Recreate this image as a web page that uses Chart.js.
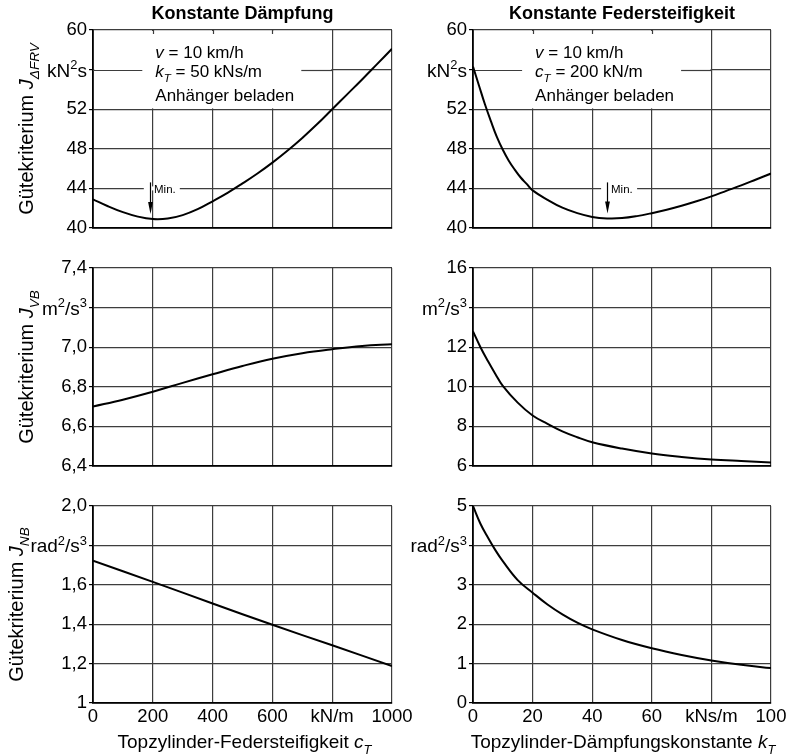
<!DOCTYPE html>
<html><head><meta charset="utf-8">
<script src="https://cdn.jsdelivr.net/npm/chart.js@4/dist/chart.umd.min.js"></script>
<style>
html,body{margin:0;padding:0;background:#fff;}
#wrap{position:relative;width:793px;height:755px;overflow:hidden;background:#fff;}
#wrap canvas{position:absolute;left:0;top:0;}
</style></head><body><div id="wrap">
<canvas id="p0" width="793" height="755"></canvas>
<canvas id="p1" width="793" height="755"></canvas>
<canvas id="p2" width="793" height="755"></canvas>
<canvas id="p3" width="793" height="755"></canvas>
<canvas id="p4" width="793" height="755"></canvas>
<canvas id="p5" width="793" height="755"></canvas>
</div>
<script>
// ---------- DATA ----------
const cFrv = [0,50,100,150,200,250,300,350,400,450,500,550,600,650,700,750,800,850,900,950,1000];
const jFrvC = [42.9,42.2,41.6,41.15,40.9,40.95,41.3,41.9,42.7,43.55,44.5,45.5,46.6,47.8,49.1,50.5,52.0,53.5,55.0,56.55,58.1];
const kFrv = [0,2,4,6,8,10,12,14,16,18,20,25,30,35,40,45,50,55,60,65,70,75,80,85,90,95,100];
const jFrvK = [56.3,54.4,52.5,50.8,49.2,47.9,46.8,45.9,45.1,44.45,43.8,42.85,42.05,41.5,41.12,40.97,41.0,41.2,41.5,41.85,42.25,42.7,43.2,43.75,44.3,44.9,45.5];

const cVb = [0,100,200,300,400,500,600,700,800,900,1000];
const jVbC = [6.70,6.735,6.775,6.82,6.863,6.905,6.942,6.97,6.99,7.006,7.015];
const kVb = [0,2.5,5,7.5,10,15,20,25,30,35,40,50,60,70,80,90,100];
const jVbK = [12.8,12.0,11.3,10.65,10.05,9.2,8.55,8.13,7.75,7.45,7.2,6.88,6.63,6.46,6.33,6.25,6.18];

const cNb = [0,200,400,600,800,1000];
const jNbC = [1.722,1.615,1.505,1.397,1.293,1.188];
const kNb = [0,2.5,5,7.5,10,15,20,25,30,35,40,50,60,70,80,90,100];
const jNbK = [5.0,4.55,4.2,3.88,3.6,3.12,2.8,2.5,2.25,2.04,1.87,1.6,1.39,1.22,1.08,0.97,0.886];

const xTicksC = [0,200,400,600,800,1000];
const xLabelsC = ['0','200','400','600','kN/m','1000'];
const xTicksK = [0,20,40,60,80,100];
const xLabelsK = ['0','20','40','60','kNs/m','100'];

const yTicksFrv = [40,44,48,52,56,60];
const yLabelsFrv = ['40','44','48','52','kN²s','60'];
const yTicksVbC = [6.4,6.6,6.8,7.0,7.2,7.4];
const yLabelsVbC = ['6,4','6,6','6,8','7,0','m²/s³','7,4'];
const yTicksVbK = [6,8,10,12,14,16];
const yLabelsVbK = ['6','8','10','12','m²/s³','16'];
const yTicksNbC = [1,1.2,1.4,1.6,1.8,2.0];
const yLabelsNbC = ['1','1,2','1,4','1,6','rad²/s³','2,0'];
const yTicksNbK = [0,1,2,3,4,5];
const yLabelsNbK = ['0','1','2','3','rad²/s³','5'];

// unit labels drawn with real superscripts
const unitParts = {
  'kN²s': [['kN','n'],['2','p'],['s','n']],
  'm²/s³': [['m','n'],['2','p'],['/s','n'],['3','p']],
  'rad²/s³': [['rad','n'],['2','p'],['/s','n'],['3','p']]
};

const minMarkC = [190, 40.9];
const minMarkK = [45, 40.97];

// ---------- LAYOUT / STYLE ----------
const FONT = "'Liberation Sans', Arial, Helvetica, sans-serif";
const GRID = '#3d3d3d';
const COLS = [{L:93, R:392}, {L:473, R:771}];
const ROWS = [{T:30, B:228}, {T:268, B:466}, {T:506, B:703}];
const TICK_SIZE = 18.5;

function fontStr(st, size){
  const it = st.includes('i') ? 'italic ' : '';
  const b = st.includes('b') ? 'bold ' : '';
  const s = (st.includes('s') || st.includes('p')) ? size*0.68 : size;
  return it + b + s + 'px ' + FONT;
}
function drawRich(ctx, parts, x, y, size, align){
  ctx.save();
  ctx.fillStyle = '#000'; ctx.textBaseline = 'alphabetic'; ctx.textAlign = 'left';
  let w = 0; const ws = [];
  for (const [t, st] of parts){ ctx.font = fontStr(st, size); const m = ctx.measureText(t).width; ws.push(m); w += m; }
  let cx = align === 'center' ? x - w/2 : (align === 'right' ? x - w : x);
  parts.forEach(([t, st], i) => {
    ctx.font = fontStr(st, size);
    let dy = 0;
    if (st.includes('s')) dy = size*0.3;
    if (st.includes('p')) dy = -size*0.4;
    ctx.fillText(t, cx, y + dy);
    cx += ws[i];
  });
  ctx.restore();
}
function line(ctx, x1, y1, x2, y2){ ctx.beginPath(); ctx.moveTo(x1, y1); ctx.lineTo(x2, y2); ctx.stroke(); }

function annotationBox(chart, gridVals, boxEndX, textX0, lines){
  const ctx = chart.ctx, xs = chart.scales.x, ys = chart.scales.y, ca = chart.chartArea;
  const xEnd = xs.getPixelForValue(boxEndX);
  const yEnd = ys.getPixelForValue(gridVals.bottom);
  ctx.save();
  ctx.fillStyle = '#fff';
  ctx.fillRect(ca.left + 1.2, ca.top + 1, xEnd - ca.left - 2, yEnd - ca.top - 1.8);
  ctx.strokeStyle = GRID; ctx.lineWidth = 1.2;
  const y56 = Math.round(ys.getPixelForValue(gridVals.mid)) + 0.5;
  const tx = xs.getPixelForValue(textX0) + 2.5;
  line(ctx, ca.left, y56, tx - 13, y56);
  line(ctx, tx + 146, y56, xEnd, y56);
  for (const v of gridVals.topTicks){
    const px = Math.round(xs.getPixelForValue(v)) + 0.5;
    line(ctx, px, ca.top, px, ca.top + 4);
  }
  ctx.restore();
  const offs = [-13, 6, 30.5];
  lines.forEach((parts, i) => drawRich(ctx, parts, tx, y56 + offs[i], 17, 'left'));
}
function minGap(chart, mark){
  const ctx = chart.ctx, xs = chart.scales.x, ys = chart.scales.y;
  const ax = xs.getPixelForValue(mark[0]);
  const y44 = ys.getPixelForValue(44);
  ctx.save(); ctx.fillStyle = '#fff';
  ctx.fillRect(ax - 6, y44 - 2, 36, 4);
  ctx.restore();
}
function minArrow(chart, mark){
  const ctx = chart.ctx, xs = chart.scales.x, ys = chart.scales.y;
  const ax = Math.round(xs.getPixelForValue(mark[0])) + 0.5;
  const y44 = ys.getPixelForValue(44);
  const tip = ys.getPixelForValue(mark[1]) - 5;
  ctx.save();
  ctx.strokeStyle = '#000'; ctx.lineWidth = 1.2; ctx.fillStyle = '#000';
  line(ctx, ax, y44 - 6, ax, tip - 10);
  ctx.beginPath(); ctx.moveTo(ax - 2.4, tip - 12); ctx.lineTo(ax + 2.4, tip - 12); ctx.lineTo(ax, tip); ctx.closePath(); ctx.fill();
  ctx.font = '11.5px ' + FONT; ctx.textBaseline = 'middle'; ctx.textAlign = 'left';
  ctx.fillText('Min.', ax + 3.5, y44 + 1);
  ctx.restore();
}
function yTitle(chart, parts, bx){
  const ctx = chart.ctx, ca = chart.chartArea;
  ctx.save();
  ctx.translate(bx, (ca.top + ca.bottom)/2);
  ctx.rotate(-Math.PI/2);
  drawRich(ctx, parts, 0, 0, 20, 'center');
  ctx.restore();
}
function unitLabels(chart, ticks, labels){
  const ys = chart.scales.y, ca = chart.chartArea;
  labels.forEach((lab, i) => {
    if (unitParts[lab]) {
      const py = ys.getPixelForValue(ticks[i]);
      drawRich(chart.ctx, unitParts[lab], ca.left - 6, py + 7, 19, 'right');
    }
  });
}

function panel(id, col, row, spec){
  const box = {L: COLS[col].L, R: COLS[col].R, T: ROWS[row].T, B: ROWS[row].B};
  const pts = spec.xs.map((x, i) => ({x: x, y: spec.ys[i]}));
  const showX = row === 2;
  const overlay = {
    id: 'ov' + id,
    beforeDatasetsDraw(chart){ if (spec.before) spec.before(chart); },
    afterDatasetsDraw(chart){ if (spec.after) spec.after(chart); },
    afterDraw(chart){
      unitLabels(chart, spec.yTicks, spec.yLabels);
      if (spec.text) spec.text(chart);
    }
  };
  return new Chart(document.getElementById(id), {
    type: 'line',
    data: { datasets: [{ data: pts, borderColor: '#000', borderWidth: 2, pointRadius: 0,
      tension: 0.4, fill: false }] },
    options: {
      responsive: false, animation: false, devicePixelRatio: 1,
      layout: { padding: { left: 0, top: box.T, right: 793 - box.R, bottom: 0 } },
      plugins: { legend: { display: false }, tooltip: { enabled: false }, title: { display: false } },
      scales: {
        x: {
          type: 'linear', min: spec.xTicks[0], max: spec.xTicks[spec.xTicks.length - 1],
          afterBuildTicks: s => { s.ticks = spec.xTicks.map(v => ({value: v})); },
          ticks: { display: showX, autoSkip: false, maxRotation: 0, padding: 3, color: '#000',
            font: { family: FONT, size: TICK_SIZE },
            callback: (v, i) => spec.xLabels[i] },
          grid: { color: GRID, lineWidth: 1.2, drawTicks: false },
          border: { color: '#000', width: 1.8 },
          afterFit: s => { s.height = 755 - box.B; }
        },
        y: {
          type: 'linear', min: spec.yTicks[0], max: spec.yTicks[spec.yTicks.length - 1],
          afterBuildTicks: s => { s.ticks = spec.yTicks.map(v => ({value: v})); },
          ticks: { autoSkip: false, padding: 2, color: '#000',
            font: { family: FONT, size: TICK_SIZE },
            callback: (v, i) => unitParts[spec.yLabels[i]] ? '' : spec.yLabels[i] },
          grid: { color: GRID, lineWidth: 1.2, tickLength: 4, tickColor: '#000' },
          border: { color: '#000', width: 1.8 },
          afterFit: s => { s.width = box.L; }
        }
      }
    },
    plugins: [overlay]
  });
}

const frvTitle = [['Gütekriterium ', 'n'], ['J', 'i'], ['ΔFRV', 'si']];
const vbTitle = [['Gütekriterium ', 'n'], ['J', 'i'], ['VB', 'si']];
const nbTitle = [['Gütekriterium ', 'n'], ['J', 'i'], ['NB', 'si']];

panel('p0', 0, 0, {
  xs: cFrv, ys: jFrvC, xTicks: xTicksC, xLabels: xLabelsC, yTicks: yTicksFrv, yLabels: yLabelsFrv,
  before: ch => { annotationBox(ch, {bottom: 52, mid: 56, topTicks: [200, 400, 600]}, 800, 200, [
      [['v', 'i'], [' = 10 km/h', 'n']],
      [['k', 'i'], ['T', 'si'], [' = 50 kNs/m', 'n']],
      [['Anhänger beladen', 'n']]]);
    minGap(ch, minMarkC); },
  after: ch => minArrow(ch, minMarkC),
  text: ch => {
    const ca = ch.chartArea;
    drawRich(ch.ctx, [['Konstante Dämpfung', 'b']], (ca.left + ca.right)/2, 19, 18, 'center');
    yTitle(ch, frvTitle, 33);
  }
});
panel('p1', 1, 0, {
  xs: kFrv, ys: jFrvK, xTicks: xTicksK, xLabels: xLabelsK, yTicks: yTicksFrv, yLabels: yLabelsFrv,
  before: ch => { annotationBox(ch, {bottom: 52, mid: 56, topTicks: [20, 40, 60]}, 80, 20, [
      [['v', 'i'], [' = 10 km/h', 'n']],
      [['c', 'i'], ['T', 'si'], [' = 200 kN/m', 'n']],
      [['Anhänger beladen', 'n']]]);
    minGap(ch, minMarkK); },
  after: ch => minArrow(ch, minMarkK),
  text: ch => {
    const ca = ch.chartArea;
    drawRich(ch.ctx, [['Konstante Federsteifigkeit', 'b']], (ca.left + ca.right)/2, 19, 18, 'center');
  }
});
panel('p2', 0, 1, {
  xs: cVb, ys: jVbC, xTicks: xTicksC, xLabels: xLabelsC, yTicks: yTicksVbC, yLabels: yLabelsVbC,
  text: ch => yTitle(ch, vbTitle, 33)
});
panel('p3', 1, 1, {
  xs: kVb, ys: jVbK, xTicks: xTicksK, xLabels: xLabelsK, yTicks: yTicksVbK, yLabels: yLabelsVbK
});
panel('p4', 0, 2, {
  xs: cNb, ys: jNbC, xTicks: xTicksC, xLabels: xLabelsC, yTicks: yTicksNbC, yLabels: yLabelsNbC,
  text: ch => {
    const ca = ch.chartArea;
    yTitle(ch, nbTitle, 23);
    drawRich(ch.ctx, [['Topzylinder-Federsteifigkeit ', 'n'], ['c', 'i'], ['T', 'si']], (ca.left + ca.right)/2 + 2, 748, 19, 'center');
  }
});
panel('p5', 1, 2, {
  xs: kNb, ys: jNbK, xTicks: xTicksK, xLabels: xLabelsK, yTicks: yTicksNbK, yLabels: yLabelsNbK,
  text: ch => {
    const ca = ch.chartArea;
    drawRich(ch.ctx, [['Topzylinder-Dämpfungskonstante ', 'n'], ['k', 'i'], ['T', 'si']], (ca.left + ca.right)/2 + 1, 748, 19, 'center');
  }
});
</script>
</body></html>
